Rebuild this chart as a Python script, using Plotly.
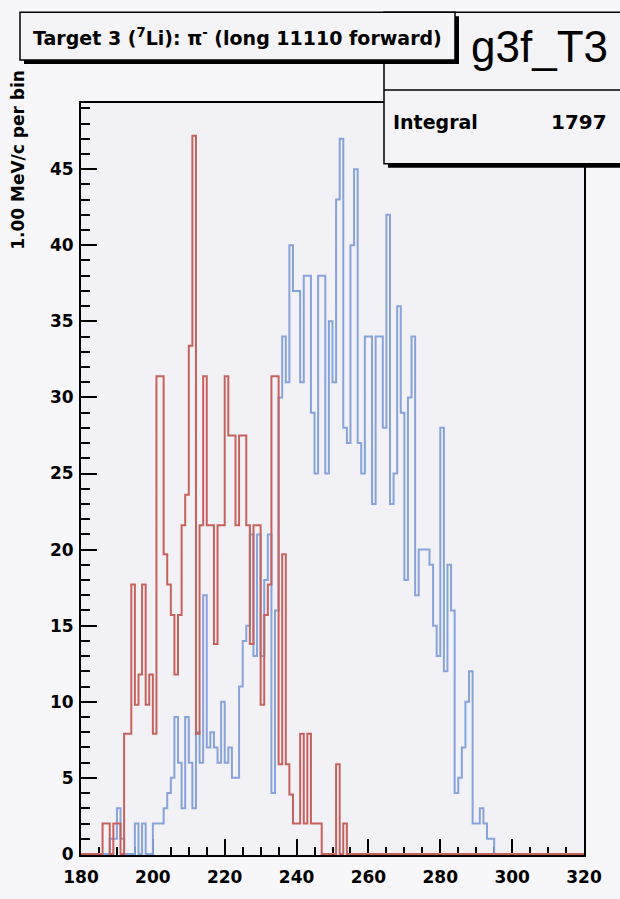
import numpy as np
import plotly.graph_objects as go

# ---------------- data (1 MeV/c bins, 180..320) ----------------
x_min, x_max = 180, 320
red_first_bin = 186
red_values = [2, 2, 0, 2, 2, 0, 7.9, 7.9, 17.7, 9.8,
              11.8, 17.7, 9.8, 11.8, 7.9, 31.4, 31.4, 19.7, 17.7, 15.7,
              11.8, 15.7, 21.6, 23.6, 33.4, 47.2, 7.9, 21.6, 31.4, 21.6,
              21.6, 13.8, 21.6, 21.6, 31.4, 27.5, 27.5, 21.6, 27.5, 27.5,
              21.6, 13.8, 21.6, 21.6, 9.8, 15.7, 17.7, 31.4, 31.4, 5.9,
              19.7, 5.9, 3.9, 2, 2, 7.9, 2, 7.9, 2, 2,
              2, 0, 0, 0, 0, 5.9, 0, 2]
blue_first_bin = 188
blue_values = [1, 1, 3, 1, 0, 0, 0, 2, 0, 2,
               0, 0, 2, 2, 2, 3, 4, 5, 9, 6,
               3, 9, 6, 3, 8, 6, 17, 7, 8, 7,
               6, 10, 6, 7, 5, 5, 11, 14, 15, 21,
               13, 21, 13, 18, 21, 4, 16, 30, 34, 31,
               40, 37, 37, 31, 38, 38, 29, 25, 38, 38,
               25, 35, 31, 43, 47, 28, 27, 40, 45, 27,
               25, 34, 34, 23, 34, 34, 28, 42, 23, 25,
               36, 29, 18, 30, 34, 17, 20, 20, 20, 19,
               15, 13, 28, 12, 19, 16, 4, 5, 7, 10,
               12, 2, 2, 3, 2, 1, 1]

x_tick_values = [180, 200, 220, 240, 260, 280, 300, 320]
y_tick_values = [0, 5, 10, 15, 20, 25, 30, 35, 40, 45]
y_max = 49.35

title_text = "Target 3 (<sup>7</sup>Li): π<sup>-</sup> (long 11110 forward)"
stats_name = "g3f_T3"
stats_label = "Integral"
stats_value = "1797"
y_title = "1.00 MeV/c per bin"

# ---------------- build step histograms ----------------
edges = np.arange(x_min, x_max + 1)


def full_hist(first_bin, vals):
    arr = np.zeros(len(edges) - 1)
    i0 = first_bin - x_min
    arr[i0:i0 + len(vals)] = vals
    return np.append(arr, arr[-1])


red_y = full_hist(red_first_bin, red_values)
blue_y = full_hist(blue_first_bin, blue_values)

RED = "#c8615b"
BLUE = "#86a3db"

fig = go.Figure()
fig.add_trace(go.Scatter(x=edges, y=blue_y, mode="lines",
                         line=dict(shape="hv", color=BLUE, width=2),
                         hoverinfo="skip", showlegend=False))
fig.add_trace(go.Scatter(x=edges, y=red_y, mode="lines",
                         line=dict(shape="hv", color=RED, width=2),
                         hoverinfo="skip", showlegend=False))

# ---------------- layout ----------------
W, H = 620, 899
L, R, T, B = 81, 584, 103, 857


def px2x(px):
    return (px - L) / (R - L)


def py2y(py):
    return (B - py) / (B - T)


TICKFONT = dict(family="DejaVu Sans", size=17, color="black")

fig.update_layout(
    width=W, height=H,
    margin=dict(l=L, r=W - R, t=T, b=H - B),
    paper_bgcolor="#f7f7f9",
    plot_bgcolor="#f2f2f6",
    showlegend=False,
    xaxis=dict(range=[x_min, x_max], tickvals=x_tick_values,
               ticktext=[f"<b>{v}</b>" for v in x_tick_values],
               ticks="inside", ticklen=16, tickwidth=2, tickcolor="black",
               minor=dict(dtick=5, tick0=180, ticks="inside", ticklen=8,
                          tickwidth=2, tickcolor="black"),
               showline=True, linecolor="black", linewidth=2, mirror=True,
               showgrid=False, zeroline=False, tickfont=TICKFONT,
               ticklabelstandoff=6, layer="below traces", fixedrange=True),
    yaxis=dict(range=[-0.07, y_max], tickvals=y_tick_values,
               ticktext=[f"<b>{v}</b>" for v in y_tick_values],
               ticks="inside", ticklen=16, tickwidth=2, tickcolor="black",
               minor=dict(dtick=1, tick0=0, ticks="inside", ticklen=9,
                          tickwidth=2, tickcolor="black"),
               showline=True, linecolor="black", linewidth=2, mirror=True,
               showgrid=False, zeroline=False, tickfont=TICKFONT,
               ticklabelstandoff=2, layer="below traces", fixedrange=True),
)

shapes = []
BOXFILL = "#f4f4f7"
# stats box (drawn first, under the title box)
sx0, sx1, sy0, sy1 = 384, 640, 12, 164
shapes.append(dict(type="rect", xref="paper", yref="paper",
                   x0=px2x(sx0 + 4), x1=px2x(sx1 + 4), y0=py2y(sy1 + 4), y1=py2y(sy0 + 4),
                   fillcolor="black", line=dict(width=0), layer="above"))
shapes.append(dict(type="rect", xref="paper", yref="paper",
                   x0=px2x(sx0), x1=px2x(sx1), y0=py2y(sy1), y1=py2y(sy0),
                   fillcolor=BOXFILL, line=dict(color="black", width=1.5), layer="above"))
shapes.append(dict(type="line", xref="paper", yref="paper",
                   x0=px2x(sx0), x1=px2x(sx1), y0=py2y(90), y1=py2y(90),
                   line=dict(color="black", width=1.5), layer="above"))
# title box
tx0, tx1, ty0, ty1 = 20, 455, 12, 60
shapes.append(dict(type="rect", xref="paper", yref="paper",
                   x0=px2x(tx0 + 4), x1=px2x(tx1 + 4), y0=py2y(ty1 + 4), y1=py2y(ty0 + 4),
                   fillcolor="black", line=dict(width=0), layer="above"))
shapes.append(dict(type="rect", xref="paper", yref="paper",
                   x0=px2x(tx0), x1=px2x(tx1), y0=py2y(ty1), y1=py2y(ty0),
                   fillcolor=BOXFILL, line=dict(color="black", width=1.5), layer="above"))
fig.update_layout(shapes=shapes)

ann = []
ann.append(dict(text=f"<b>{title_text}</b>", xref="paper", yref="paper",
                x=px2x((tx0 + tx1) / 2), y=py2y(37), xanchor="center", yanchor="middle",
                showarrow=False, font=dict(family="DejaVu Sans", size=19, color="black")))
ann.append(dict(text=stats_name, xref="paper", yref="paper",
                x=px2x(539), y=py2y(46), xanchor="center", yanchor="middle",
                showarrow=False, font=dict(family="Liberation Sans", size=44, color="black")))
ann.append(dict(text=f"<b>{stats_label}</b>", xref="paper", yref="paper",
                x=px2x(391), y=py2y(122), xanchor="left", yanchor="middle",
                showarrow=False, font=dict(family="DejaVu Sans", size=19, color="black")))
ann.append(dict(text=f"<b>{stats_value}</b>", xref="paper", yref="paper",
                x=px2x(609), y=py2y(122), xanchor="right", yanchor="middle",
                showarrow=False, font=dict(family="DejaVu Sans", size=20, color="black")))
ann.append(dict(text=f"<b>{y_title}</b>", xref="paper", yref="paper",
                x=px2x(18), y=py2y(160), xanchor="center", yanchor="middle",
                textangle=-90, showarrow=False,
                font=dict(family="DejaVu Sans", size=17, color="black")))
fig.update_layout(annotations=ann)

fig.write_html("out.html",
               config={"displayModeBar": False, "staticPlot": True},
               post_script="document.body.style.margin='0';"
                           "document.body.style.overflow='hidden';")
